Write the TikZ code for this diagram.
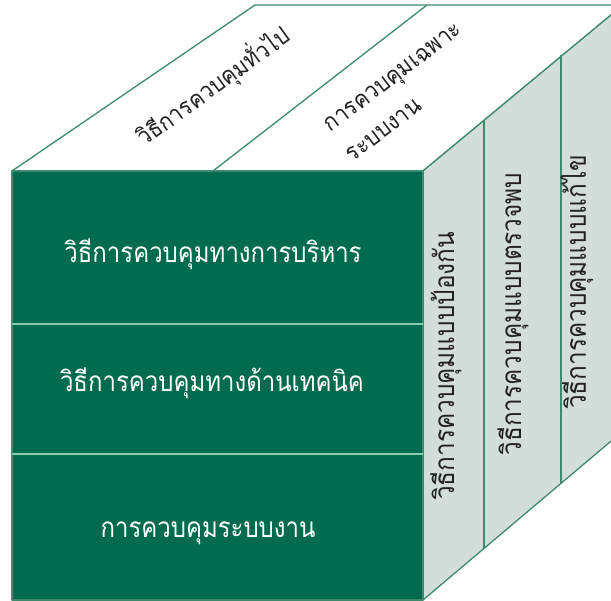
\documentclass[tikz,border=0pt]{standalone}
\usepackage{fontspec}
\newfontfamily\thaifront[Script=Thai,FakeStretch=0.855]{Loma}
\newfontfamily\thaiside[Script=Thai,FakeStretch=0.87]{Loma}
\newfontfamily\thaitop[Script=Thai,FakeStretch=0.9]{Loma}
\definecolor{frontgreen}{HTML}{006B4E}
\definecolor{edgegreen}{HTML}{3D8A6C}
\definecolor{sidegrey}{HTML}{D3DDD9}
\definecolor{mint}{HTML}{86CDB0}
\definecolor{inkdark}{HTML}{222222}
\begin{document}
\begin{tikzpicture}[x=1pt,y=-1pt,
  edge/.style={draw=edgegreen,line width=1.3pt,line join=round},
  fronttext/.style={text=white,font=\thaifront\fontsize{28}{30}\selectfont,inner sep=0pt,anchor=base},
  toptext/.style={text=inkdark,font=\thaitop\fontsize{24}{37}\selectfont,inner sep=0pt},
  sidetext/.style={text=inkdark,font=\thaiside\fontsize{28}{30}\selectfont,inner sep=0pt,rotate=90}]
\useasboundingbox (0,0) rectangle (611,601);
\clip (0,0) rectangle (611,601);
% corners
\coordinate (FTL) at (12,171);
\coordinate (FTR) at (423,171);
\coordinate (FBL) at (12,600);
\coordinate (FBR) at (423,600);
\coordinate (BTL) at (255,5);
\coordinate (BTR) at (623,5);
\coordinate (BBR) at (623,431);
\coordinate (TDa) at (213,171);
\coordinate (TDb) at (427,5);
\coordinate (V1a) at (484,120);
\coordinate (V1b) at (484,548);
\coordinate (V2a) at (561,55);
\coordinate (V2b) at (561,483);
\coordinate (H1a) at (12,324);
\coordinate (H1b) at (423,324);
\coordinate (H2a) at (12,454);
\coordinate (H2b) at (423,454);
% top face
\path[edge,fill=white] (FTL) -- (BTL) -- (BTR) -- (FTR) -- cycle;
\draw[edge] (TDa) -- (TDb);
% right face
\path[edge,fill=sidegrey] (FTR) -- (BTR) -- (BBR) -- (FBR) -- cycle;
\draw[edge] (V1a) -- (V1b);
\draw[edge] (V2a) -- (V2b);
% front face
\path[edge,fill=frontgreen] (FTL) rectangle (FBR);
\draw[mint,line width=2pt] (H1a) -- (H1b);
\draw[mint,line width=2pt] (H2a) -- (H2b);
% front texts
\node[fronttext] (f1) at (213,263) {วิธีการควบคุมทางการบริหาร};
\node[fronttext] (f2) at (212,392) {วิธีการควบคุมทางด้านเทคนิค};
\node[fronttext] (f3) at (208,538) {การควบคุมระบบงาน};
% top texts
\node[toptext,rotate=36] (t1) at (213,86) {วิธีการควบคุมทั่วไป};
\node[toptext,rotate=37,align=left] (t2) at (404,92) {การควบคุมเฉพาะ\\ระบบงาน};
% side texts
\node[sidetext] (s1) at (446,366) {วิธีการควบคุมแบบป้องกัน};
\node[sidetext] (s2) at (513,314) {วิธีการควบคุมแบบตรวจพบ};
\node[sidetext] (s3) at (577,282) {วิธีการควบคุมแบบแก้ไข};
\end{tikzpicture}
\end{document}
